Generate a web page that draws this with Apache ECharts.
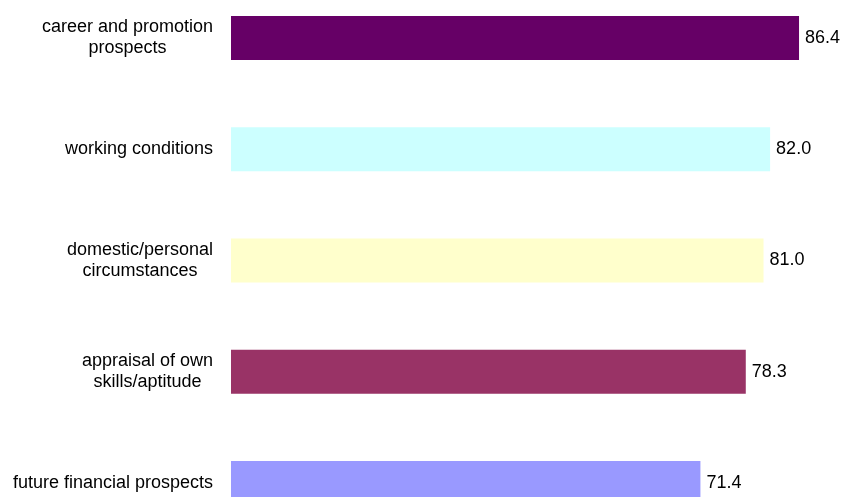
<!DOCTYPE html>
<html>
<head>
<meta charset="utf-8">
<script src="https://cdn.jsdelivr.net/npm/echarts@6/dist/echarts.min.js"></script>
<style>
  html, body { margin: 0; padding: 0; background: #ffffff; overflow: hidden; width: 841px; height: 497px; }
  /* the plot runs past the bottom edge, so the canvas is taller than the window */
  #chart { position: absolute; left: 0; top: -18px; width: 841px; height: 600px; }
</style>
</head>
<body>
<div id="chart"></div>
<script>
// Categories listed top to bottom
const categories = [
  'career and promotion\nprospects',
  'working conditions',
  'domestic/personal\ncircumstances',
  'appraisal of own\nskills/aptitude',
  'future financial prospects'
];
const values = [86.4, 82.0, 81.0, 78.3, 71.4];
const barColors = ['#660066', '#CCFFFF', '#FFFFCC', '#993366', '#9999FF'];

const FONT = 'Liberation Sans, Arial, sans-serif';

const chart = echarts.init(document.getElementById('chart'), null, { renderer: 'canvas' });

chart.setOption({
  animation: false,
  backgroundColor: '#ffffff',
  grid: { left: 231, right: 18.3, top: 0.4, height: 556.25, containLabel: false },
  xAxis: {
    type: 'value',
    min: 0,
    max: 90,
    show: false
  },
  yAxis: {
    type: 'category',
    inverse: true,
    data: categories,
    axisLine: { show: false },
    axisTick: { show: false },
    splitLine: { show: false },
    axisLabel: {
      margin: 18,
      align: 'right',
      // each line centred inside the label block, block right-aligned to the axis
      formatter: v => v.split('\n').map(s => '{c|' + s + '}').join('\n'),
      rich: {
        c: {
          align: 'center',
          fontFamily: FONT,
          fontSize: 18,
          lineHeight: 21,
          color: '#000000'
        }
      },
      fontFamily: FONT,
      fontSize: 18,
      lineHeight: 21,
      color: '#000000'
    }
  },
  series: [{
    type: 'bar',
    barWidth: 44,
    data: values.map((v, i) => ({ value: v, itemStyle: { color: barColors[i] } })),
    label: {
      show: true,
      position: 'right',
      distance: 6,
      formatter: p => p.value.toFixed(1),
      fontFamily: FONT,
      fontSize: 18,
      color: '#000000'
    }
  }]
});
</script>
</body>
</html>
